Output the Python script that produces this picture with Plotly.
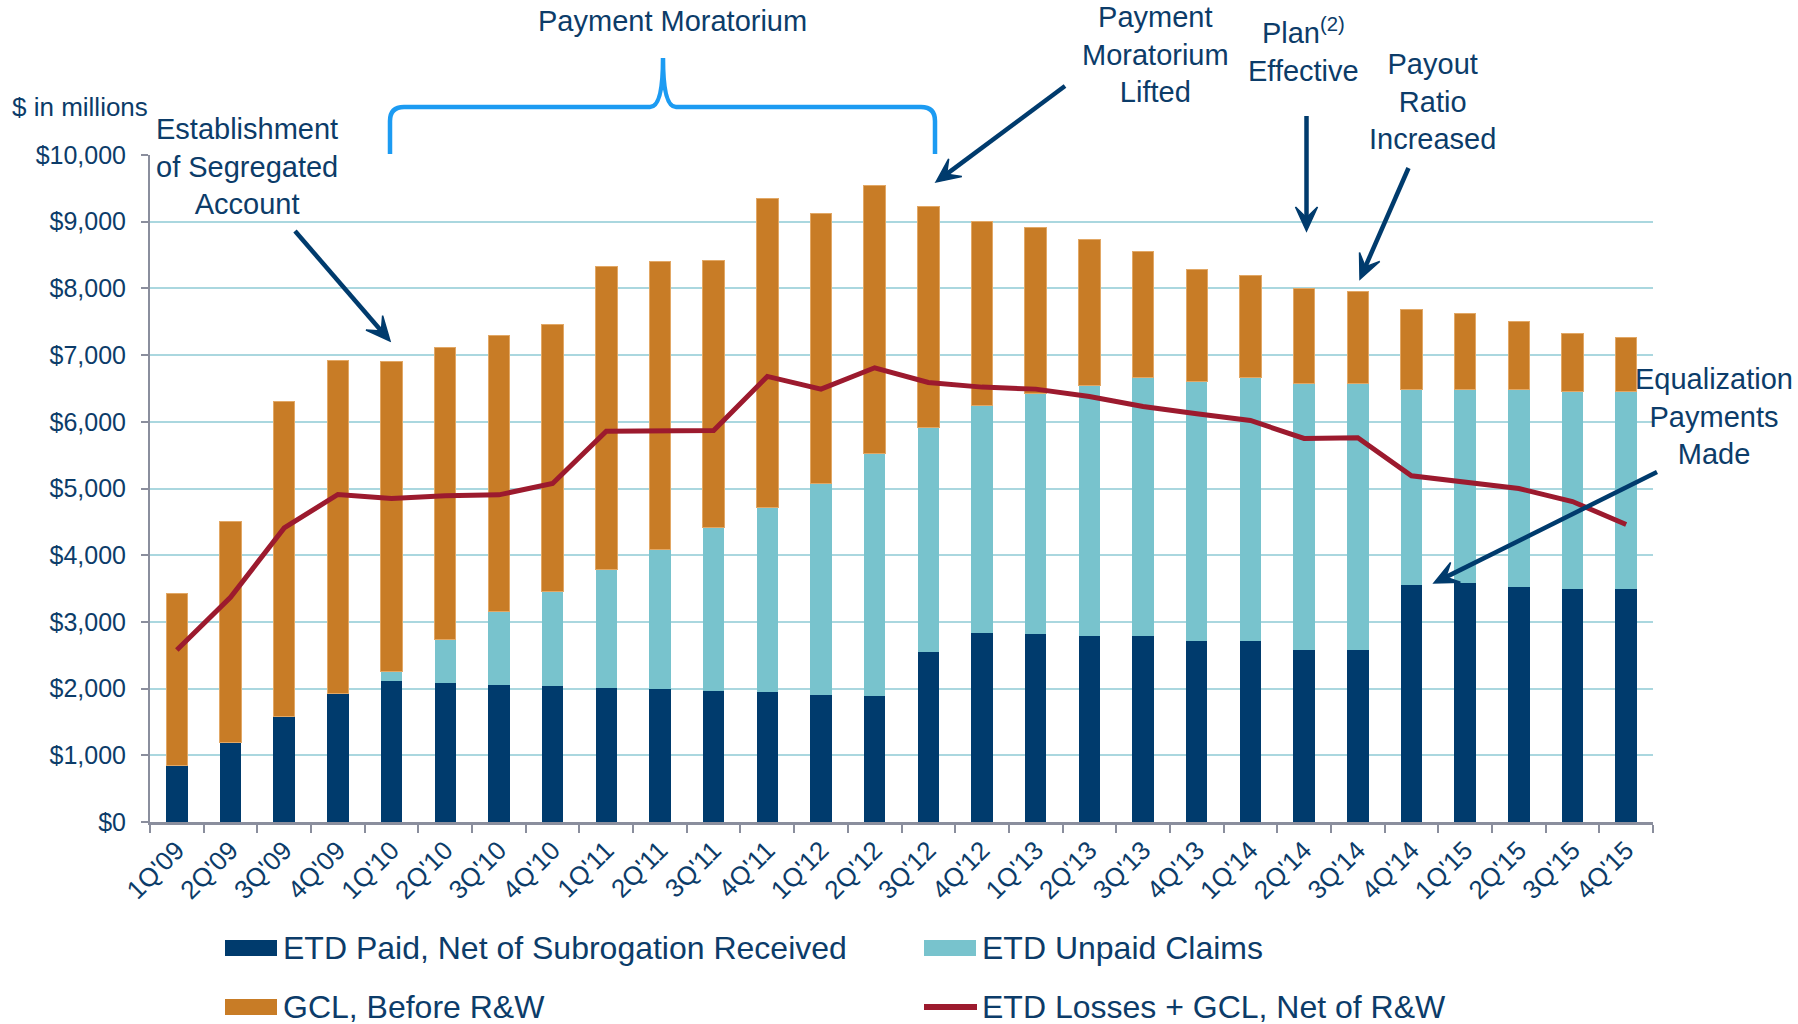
import math
import plotly.graph_objects as go

# ---------------- data ----------------
quarters = ["1Q'09", "2Q'09", "3Q'09", "4Q'09", "1Q'10", "2Q'10", "3Q'10", "4Q'10",
            "1Q'11", "2Q'11", "3Q'11", "4Q'11", "1Q'12", "2Q'12", "3Q'12", "4Q'12",
            "1Q'13", "2Q'13", "3Q'13", "4Q'13", "1Q'14", "2Q'14", "3Q'14", "4Q'14",
            "1Q'15", "2Q'15", "3Q'15", "4Q'15"]

etd_paid = [850, 1190, 1580, 1920, 2110, 2085, 2060, 2040, 2010, 1990, 1970, 1950, 1910, 1890,
            2550, 2840, 2820, 2790, 2790, 2720, 2720, 2580, 2580, 3555, 3577, 3527, 3491, 3487]
etd_unpaid = [0, 0, 0, 0, 140, 655, 1090, 1410, 1770, 2090, 2450, 2770, 3170, 3640,
              3370, 3410, 3600, 3750, 3870, 3890, 3940, 3990, 3990, 2935, 2913, 2953, 2969, 2963]
gcl_before_rw = [2580, 3320, 4720, 5000, 4660, 4380, 4140, 4010, 4550, 4320, 4000, 4630, 4040, 4010,
                 3310, 2750, 2500, 2200, 1890, 1670, 1530, 1430, 1380, 1200, 1140, 1020, 870, 810]
etd_gcl_net = [2580, 3370, 4410, 4910, 4850, 4890, 4905, 5075, 5860, 5870, 5870, 6680, 6490, 6810,
               6590, 6520, 6490, 6380, 6230, 6120, 6020, 5750, 5760, 5190, 5090, 5000, 4805, 4460]

y_ticks = [0, 1000, 2000, 3000, 4000, 5000, 6000, 7000, 8000, 9000, 10000]
y_tick_labels = ["$0", "$1,000", "$2,000", "$3,000", "$4,000", "$5,000", "$6,000",
                 "$7,000", "$8,000", "$9,000", "$10,000"]

legend_names = ["ETD Paid, Net of Subrogation Received", "ETD Unpaid Claims",
                "GCL, Before R&W", "ETD Losses + GCL, Net of R&W"]

# ---------------- style ----------------
NAVY = "#003B6D"
TEAL = "#78C3CD"
ORANGE = "#C87C26"
RED = "#9C1A2E"
TXT = "#0C3C69"
GRID = "#AAD7DF"
AXIS = "#8A8E9D"
BRACE = "#1C9BF2"
FONT = "Liberation Sans, Arial, Helvetica, sans-serif"

W, H = 1798, 1024
ML, MR, MT, MB = 150, 145, 155, 202
PW, PH = W - ML - MR, H - MT - MB


def px(x):
    return (x - ML) / PW


def py(y):
    return (H - MB - y) / PH


def P(x, y):
    return f"{px(x):.5f},{py(y):.5f}"


fig = go.Figure()
fig.add_trace(go.Bar(x=quarters, y=etd_paid, name=legend_names[0], marker_color=NAVY,
                     marker_line_width=0))
fig.add_trace(go.Bar(x=quarters, y=etd_unpaid, name=legend_names[1], marker_color=TEAL,
                     marker_line_width=0))
fig.add_trace(go.Bar(x=quarters, y=gcl_before_rw, name=legend_names[2], marker_color=ORANGE,
                     marker_line=dict(color="#E2A866", width=1)))
fig.add_trace(go.Scatter(x=quarters, y=etd_gcl_net, name=legend_names[3], mode="lines",
                         line=dict(color=RED, width=5)))

annotations = []
shapes = []

# "$ in millions"
annotations.append(dict(text="$ in millions", xref="paper", yref="paper", x=px(10), y=py(107),
                        xanchor="left", yanchor="middle", showarrow=False,
                        font=dict(size=26, color=TXT, family=FONT)))

# text callouts
callouts = [
    ("Payment Moratorium", 672, 21),
    ("Establishment<br>of Segregated<br>Account", 247, 166),
    ("Payment<br>Moratorium<br>Lifted", 1155, 54),
    ("Plan<sup>(2)</sup><br>Effective", 1303, 50),
    ("Payout<br>Ratio<br>Increased", 1432, 102),
    ("Equalization<br>Payments<br>Made", 1714, 416),
]
for t, cx, cy in callouts:
    annotations.append(dict(text=t, xref="paper", yref="paper", x=px(cx), y=py(cy),
                            xanchor="center", yanchor="middle", showarrow=False, align="center",
                            font=dict(size=29, color=TXT, family=FONT)))

# arrows drawn as shapes: (tail_x, tail_y, tip_x, tip_y) in pixels
arrows = [
    (295, 231, 390, 341),
    (1065, 86, 936, 182),
    (1306.5, 116, 1306.5, 231),
    (1408.5, 168, 1360, 279),
    (1657, 472, 1434, 583),
]
HL, HW = 24, 11
for tx, ty, hx, hy in arrows:
    L = math.hypot(hx - tx, hy - ty)
    dx, dy = (hx - tx) / L, (hy - ty) / L
    nx, ny = -dy, dx
    bx, by = hx - dx * HL * 0.55, hy - dy * HL * 0.55
    shapes.append(dict(type="line", xref="paper", yref="paper",
                       x0=px(tx), y0=py(ty), x1=px(bx), y1=py(by),
                       line=dict(color=NAVY, width=4.5)))
    head = ("M " + P(hx, hy) +
            " L " + P(hx - dx * HL + nx * HW, hy - dy * HL + ny * HW) +
            " L " + P(bx, by) +
            " L " + P(hx - dx * HL - nx * HW, hy - dy * HL - ny * HW) + " Z")
    shapes.append(dict(type="path", xref="paper", yref="paper", path=head,
                       fillcolor=NAVY, line=dict(color=NAVY, width=1.5)))

# brace over the payment moratorium period
brace = ("M " + P(390, 154) + " L " + P(390, 121) + " Q " + P(390, 107) + " " + P(404, 107) +
         " L " + P(650, 107) + " Q " + P(663, 107) + " " + P(663, 58) +
         " Q " + P(663, 107) + " " + P(676, 107) + " L " + P(921, 107) +
         " Q " + P(935, 107) + " " + P(935, 121) + " L " + P(935, 154))
shapes.append(dict(type="path", xref="paper", yref="paper", path=brace,
                   line=dict(color=BRACE, width=4.5)))

# manual legend
legend_rows = [
    (legend_names[0], "rect", NAVY, 225, 948),
    (legend_names[1], "rect", TEAL, 924, 948),
    (legend_names[2], "rect", ORANGE, 225, 1007),
    (legend_names[3], "line", RED, 924, 1007),
]
for name, kind, col, lx, ly in legend_rows:
    if kind == "rect":
        shapes.append(dict(type="rect", xref="paper", yref="paper", x0=px(lx), x1=px(lx + 52),
                           y0=py(ly - 8), y1=py(ly + 8), fillcolor=col, line=dict(width=0)))
    else:
        shapes.append(dict(type="line", xref="paper", yref="paper", x0=px(lx), x1=px(lx + 53),
                           y0=py(ly), y1=py(ly), line=dict(color=col, width=6)))
    annotations.append(dict(text=name, xref="paper", yref="paper", x=px(lx + 56), y=py(ly),
                            xanchor="left", yanchor="middle", showarrow=False,
                            font=dict(size=32, color=TXT, family=FONT)))

fig.update_layout(
    width=W, height=H,
    margin=dict(l=ML, r=MR, t=MT, b=MB, pad=0),
    paper_bgcolor="white", plot_bgcolor="white",
    barmode="stack", bargap=0.6,
    showlegend=False,
    font=dict(family=FONT, color=TXT),
    xaxis=dict(type="category", tickangle=-45, tickfont=dict(size=26, color=TXT, family=FONT),
               showline=True, linecolor=AXIS, linewidth=2.5, ticks="outside", tickson="boundaries",
               ticklen=8, tickwidth=2, tickcolor=AXIS, showgrid=False, zeroline=False),
    yaxis=dict(range=[0, 10000], tickmode="array", tickvals=y_ticks, ticktext=y_tick_labels,
               tickfont=dict(size=25, color=TXT, family=FONT), showgrid=True, gridcolor=GRID,
               gridwidth=2, showline=True, linecolor=AXIS, linewidth=2, ticks="outside",
               ticklen=7, tickwidth=2, tickcolor=AXIS, zeroline=False, ticklabelstandoff=10),
    annotations=annotations,
    shapes=shapes,
)

fig.write_html("out.html", config={"displayModeBar": False},
               post_script="document.body.style.margin='0';")
